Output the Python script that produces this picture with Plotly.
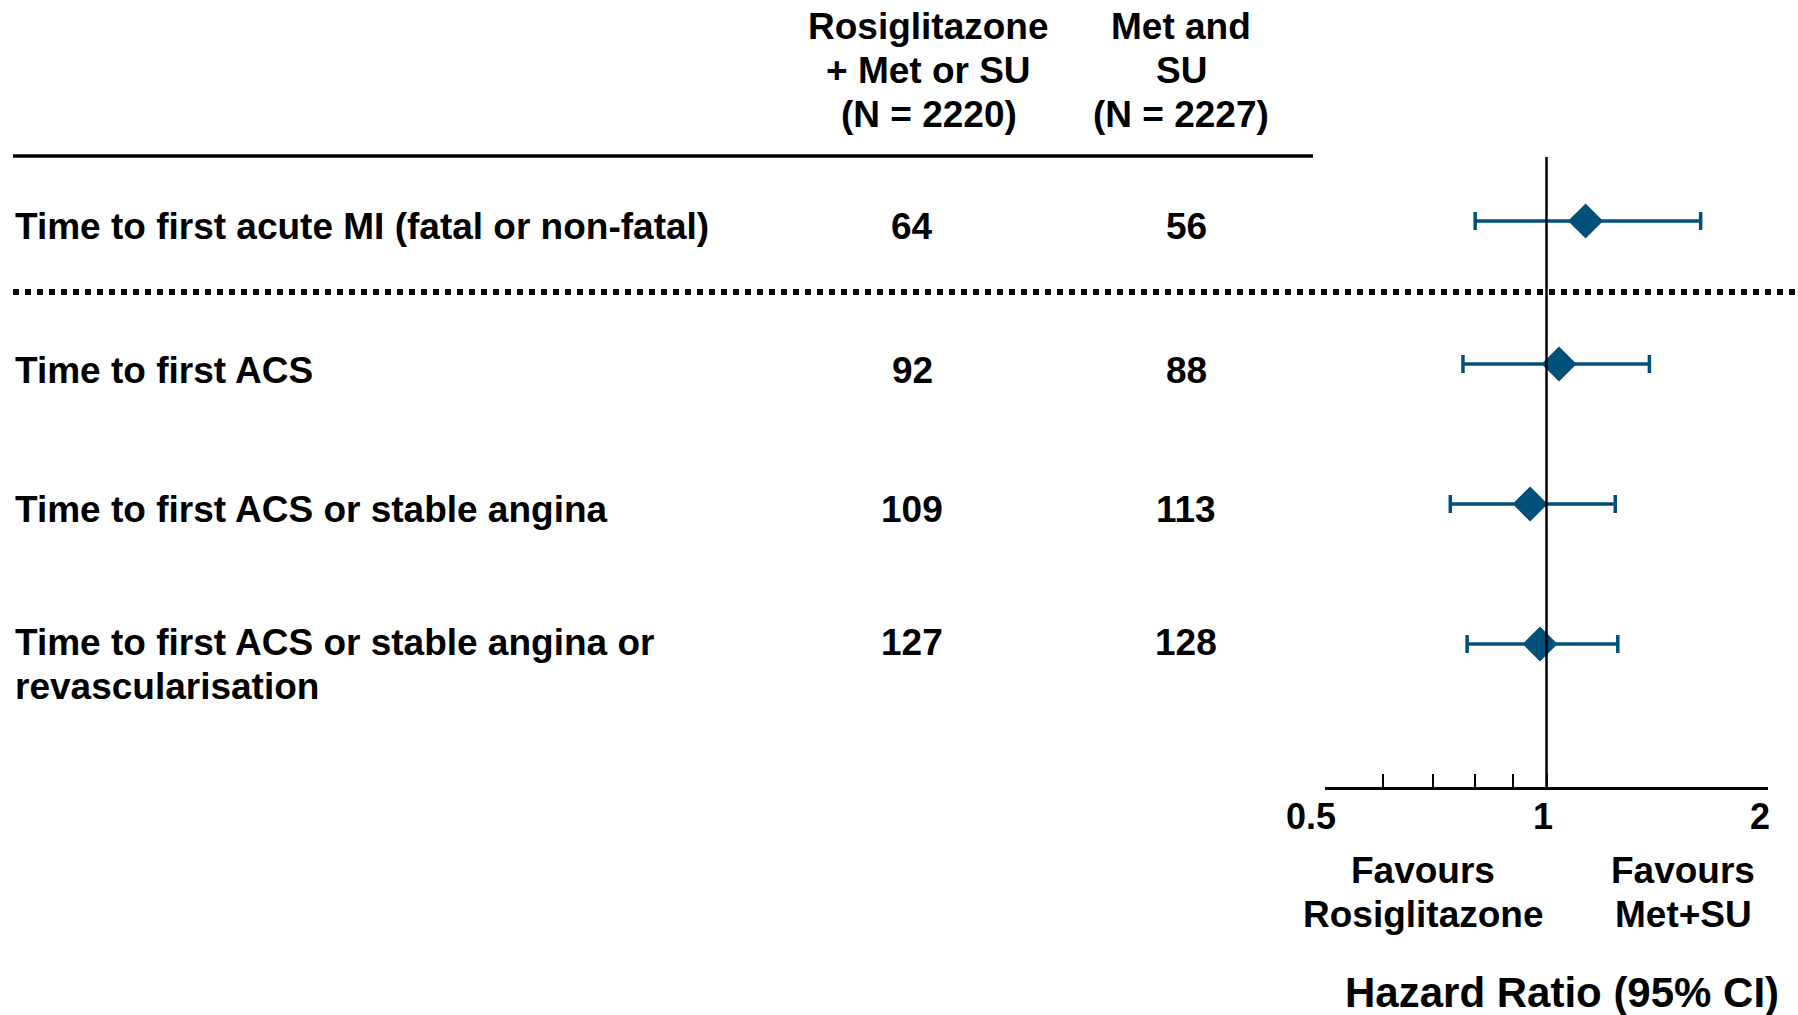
import math
import plotly.graph_objects as go

# Endpoints and event counts per arm
endpoints = [
    ["Time to first acute MI (fatal or non-fatal)"],
    ["Time to first ACS"],
    ["Time to first ACS or stable angina"],
    ["Time to first ACS or stable angina or", "revascularisation"],
]
rosi_events = [64, 92, 109, 127]
metsu_events = [56, 88, 113, 128]

# Hazard ratios with 95% confidence limits
hazard_ratio = [1.13, 1.04, 0.95, 0.98]
ci_lower = [0.80, 0.77, 0.74, 0.78]
ci_upper = [1.62, 1.38, 1.24, 1.25]

# Axis ticks
tick_values = [0.5, 0.6, 0.7, 0.8, 0.9, 1, 2]
tick_labels = ["0.5", "", "", "", "", "1", "2"]

# Header and footer texts
header_rosi = ["Rosiglitazone", "+ Met or SU", "(N = 2220)"]
header_metsu = ["Met and", "SU", "(N = 2227)"]
favours_left = ["Favours", "Rosiglitazone"]
favours_right = ["Favours", "Met+SU"]
axis_title = "Hazard Ratio (95% CI)"

# ---- page geometry (pixels) ----
W, H = 1798, 1015
FONT = "Liberation Sans, Arial, sans-serif"
BLUE = "#01507A"
row_y = [221, 364, 504, 644]          # vertical centre of each row's marker
text_y = [226, 370, 509, 642]         # vertical centre of each row's first text line
LINE = 44                             # spacing of stacked text lines
col1_x, col2_x = 912, 1186            # centres of the count columns
plot_left, plot_right = 1325, 1768    # x-axis extent
plot_top, plot_bottom = 157, 787      # y-axis extent
tick_label_shift = {"0.5": -14, "1": -4, "2": -8}


def px(x):
    return x / W


def py(y):
    return 1 - y / H


fig = go.Figure()

fig.add_trace(go.Scatter(
    x=hazard_ratio,
    y=row_y,
    mode="markers",
    marker=dict(symbol="diamond", size=27, color=BLUE, line=dict(width=0)),
    error_x=dict(
        type="data",
        symmetric=False,
        array=[u - h for u, h in zip(ci_upper, hazard_ratio)],
        arrayminus=[h - l for h, l in zip(hazard_ratio, ci_lower)],
        color=BLUE,
        thickness=3.5,
        width=9,
    ),
    showlegend=False,
    hoverinfo="skip",
))

annotations = []


def label(text, x, y, size=37, anchor="center"):
    annotations.append(dict(
        text=text, x=px(x), y=py(y), xref="paper", yref="paper",
        xanchor=anchor, yanchor="middle",
        showarrow=False,
        font=dict(family=FONT, size=size, color="black", weight="bold"),
    ))


def stacked(lines, x, y, anchor="center", size=37):
    for i, t in enumerate(lines):
        label(t, x, y + i * LINE, size=size, anchor=anchor)


# Column headers
stacked(header_rosi, 929, 26)
stacked(header_metsu, 1181, 26)

# Rows: endpoint names and event counts
for lines, ty in zip(endpoints, text_y):
    stacked(lines, 13, ty, anchor="left")
for a, b, ty in zip(rosi_events, metsu_events, text_y):
    label(str(a), col1_x, ty)
    label(str(b), col2_x, ty)

# Tick labels, placed on the log axis
for v, t in zip(tick_values, tick_labels):
    if t:
        annotations.append(dict(
            text=t, x=math.log10(v), y=py(816), xref="x", yref="paper",
            xanchor="center", yanchor="middle", xshift=tick_label_shift[t],
            showarrow=False,
            font=dict(family=FONT, size=36, color="black", weight="bold"),
        ))

# Direction labels and axis title
stacked(favours_left, 1423, 870)
stacked(favours_right, 1683, 870)
label(axis_title, 1562, 992, size=42)

shapes = [
    # header rule
    dict(type="line", xref="paper", yref="paper",
         x0=px(13), x1=px(1313), y0=py(156), y1=py(156),
         line=dict(color="black", width=3.5)),
    # dotted separator under the primary endpoint
    dict(type="line", xref="paper", yref="paper",
         x0=px(13), x1=px(W), y0=py(292), y1=py(292),
         line=dict(color="black", width=6, dash="6px,6px")),
    # line of no effect
    dict(type="line", xref="x", yref="y domain",
         x0=1, x1=1, y0=0, y1=1,
         line=dict(color="black", width=2.5)),
]

fig.update_layout(
    template="none",
    width=W, height=H,
    autosize=False,
    margin=dict(l=0, r=0, t=0, b=0, pad=0),
    paper_bgcolor="white", plot_bgcolor="white",
    annotations=annotations,
    shapes=shapes,
    xaxis=dict(
        type="log",
        automargin=False,
        domain=[px(plot_left), px(plot_right)],
        range=[math.log10(0.5), math.log10(2)],
        showgrid=False, zeroline=False,
        showline=True, linecolor="black", linewidth=2.5,
        ticks="inside", ticklen=13, tickwidth=2, tickcolor="black",
        tickvals=tick_values, ticktext=tick_labels,
        showticklabels=False,
        anchor="y",
    ),
    yaxis=dict(
        automargin=False,
        domain=[py(plot_bottom), py(plot_top)],
        range=[plot_bottom, plot_top],
        visible=False,
    ),
)

fig.write_html("out.html")
